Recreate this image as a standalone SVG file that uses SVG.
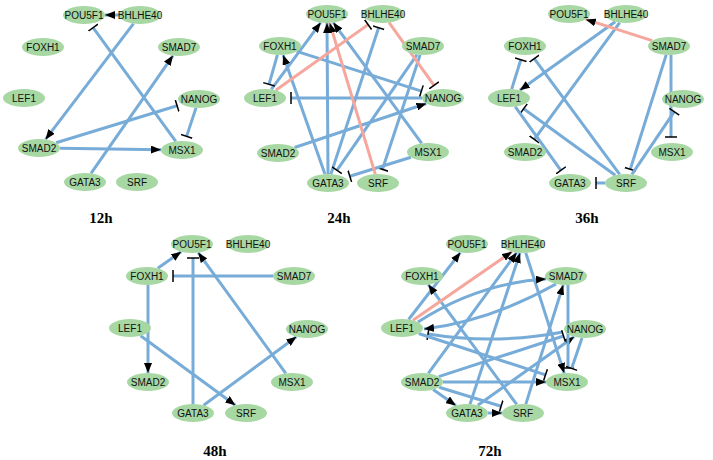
<svg xmlns="http://www.w3.org/2000/svg" width="713" height="460" viewBox="0 0 713 460">
<style>
.e{stroke:#78acd8;stroke-width:3;fill:none}
.p{stroke:#f5a69d;stroke-width:3;fill:none}
.n ellipse{fill:#a7d7a3}
.n text{font-family:"Liberation Sans",Arial,sans-serif;font-size:10px;text-anchor:middle;fill:#111}
.lbl{font-family:"Liberation Serif","Times New Roman",serif;font-size:15px;font-weight:bold;text-anchor:middle;fill:#000}
</style>
<defs>
<marker id="arr" viewBox="0 0 10 8" refX="10" refY="4" markerWidth="10" markerHeight="8" markerUnits="userSpaceOnUse" orient="auto"><path d="M0,0 L10,4 L0,8 z" fill="#000"/></marker>
<marker id="tee" viewBox="0 0 3 12" refX="1.5" refY="6" markerWidth="3" markerHeight="12" markerUnits="userSpaceOnUse" orient="auto"><path d="M1.5,0 V12" stroke="#000" stroke-width="1.5"/></marker>
</defs>
<rect width="713" height="460" fill="#fff"/>

<g id="edges">
<!-- 12h -->
<line class="e" x1="119" y1="15" x2="105" y2="15" marker-end="url(#arr)"/>
<line class="e" x1="133.5" y1="23.6" x2="45.5" y2="139.4" marker-end="url(#arr)"/>
<line class="e" x1="175.8" y1="141.4" x2="93.1" y2="27.6" marker-end="url(#tee)"/>
<line class="e" x1="91" y1="173.4" x2="173" y2="55.6" marker-end="url(#arr)"/>
<line class="e" x1="56.1" y1="142.8" x2="177.1" y2="105.7" marker-end="url(#tee)"/>
<line class="e" x1="196" y1="107.9" x2="186.6" y2="136.4" marker-end="url(#tee)"/>
<line class="e" x1="60" y1="148.3" x2="161" y2="149.7" marker-end="url(#arr)"/>
<!-- 24h -->
<line class="e" x1="271.3" y1="89.4" x2="320.7" y2="22.6" marker-end="url(#arr)"/>
<line class="e" x1="328" y1="174" x2="327" y2="23" marker-end="url(#arr)"/>
<line class="e" x1="421.7" y1="143.4" x2="333.3" y2="22.6" marker-end="url(#arr)"/>
<line class="e" x1="277.4" y1="54.9" x2="269" y2="84.3" marker-end="url(#tee)"/>
<line class="e" x1="330.9" y1="174.1" x2="378.6" y2="27.7" marker-end="url(#tee)"/>
<line class="e" x1="296.8" y1="51.4" x2="421.4" y2="91.1" marker-end="url(#tee)"/>
<line class="e" x1="422" y1="98" x2="291" y2="98" marker-end="url(#tee)"/>
<line class="e" x1="294.6" y1="147.5" x2="426.4" y2="103.5" marker-end="url(#arr)"/>
<line class="e" x1="324.9" y1="174.1" x2="283.1" y2="54.9" marker-end="url(#arr)"/>
<line class="e" x1="417" y1="54.6" x2="336.9" y2="170.3" marker-end="url(#tee)"/>
<line class="e" x1="420.1" y1="54.9" x2="382.5" y2="169.3" marker-end="url(#tee)"/>
<line class="e" x1="411" y1="157.3" x2="349.8" y2="176.2" marker-end="url(#tee)"/>
<line class="p" x1="375.3" y1="174.1" x2="329.7" y2="22.9" marker-end="url(#arr)"/>
<line class="p" x1="275.8" y1="90.3" x2="368.1" y2="24.6" marker-end="url(#tee)"/>
<line class="p" x1="389.1" y1="22.6" x2="434" y2="85.3" marker-end="url(#tee)"/>
<!-- 36h -->
<line class="e" x1="615.2" y1="21.7" x2="519.8" y2="90.3" marker-end="url(#arr)"/>
<line class="e" x1="619.7" y1="22.6" x2="534.3" y2="139.4" marker-end="url(#tee)"/>
<line class="e" x1="511.7" y1="89.1" x2="520.8" y2="59.7" marker-end="url(#tee)"/>
<line class="e" x1="619.7" y1="174.4" x2="534.3" y2="58.6" marker-end="url(#tee)"/>
<line class="e" x1="615.3" y1="175.2" x2="523.7" y2="108.7" marker-end="url(#tee)"/>
<line class="e" x1="515.2" y1="106.6" x2="560.9" y2="170.3" marker-end="url(#tee)"/>
<line class="e" x1="605" y1="183" x2="596" y2="183" marker-end="url(#tee)"/>
<line class="e" x1="666.2" y1="54.9" x2="630.3" y2="169.3" marker-end="url(#tee)"/>
<line class="e" x1="671" y1="55" x2="671" y2="137" marker-end="url(#tee)"/>
<line class="e" x1="631.9" y1="174.4" x2="674.3" y2="111.7" marker-end="url(#tee)"/>
<line class="p" x1="652.2" y1="40.6" x2="585.8" y2="19.4" marker-end="url(#arr)"/>
<!-- 48h -->
<line class="e" x1="157.8" y1="268.3" x2="181.2" y2="251.7" marker-end="url(#arr)"/>
<line class="e" x1="273" y1="276" x2="173" y2="276" marker-end="url(#tee)"/>
<line class="e" x1="193" y1="404" x2="193" y2="258" marker-end="url(#tee)"/>
<line class="e" x1="285.8" y1="373.4" x2="198.2" y2="252.6" marker-end="url(#arr)"/>
<line class="e" x1="148" y1="285" x2="148" y2="373" marker-end="url(#arr)"/>
<line class="e" x1="140.6" y1="335.8" x2="235.4" y2="405.2" marker-end="url(#arr)"/>
<line class="e" x1="203.6" y1="405.2" x2="296.4" y2="336.8" marker-end="url(#arr)"/>
<!-- 72h -->
<line class="e" x1="408.6" y1="319.5" x2="460.4" y2="252.5" marker-end="url(#arr)"/>
<line class="e" x1="516.7" y1="404.4" x2="428.3" y2="284.6" marker-end="url(#arr)"/>
<line class="e" x1="428.3" y1="373.4" x2="516.7" y2="252.6" marker-end="url(#arr)"/>
<line class="e" x1="470" y1="404.1" x2="520" y2="252.9" marker-end="url(#arr)"/>
<line class="e" x1="525.8" y1="252.9" x2="564.2" y2="373.1" marker-end="url(#arr)"/>
<path class="e" d="M418,322 Q478,283 546,279" marker-end="url(#arr)"/>
<path class="e" d="M556,284 Q490,321 424,329" marker-end="url(#arr)"/>
<path class="e" d="M563,332 Q495,345 428,334" marker-end="url(#tee)"/>
<line class="e" x1="443" y1="382" x2="546" y2="382" marker-end="url(#arr)"/>
<line class="e" x1="418.7" y1="333.5" x2="545.5" y2="374.9" marker-end="url(#tee)"/>
<line class="e" x1="439.1" y1="387.2" x2="501.1" y2="406.3" marker-end="url(#tee)"/>
<line class="e" x1="433.1" y1="389.6" x2="455.9" y2="405.4" marker-end="url(#arr)"/>
<line class="e" x1="488" y1="413" x2="502" y2="413" marker-end="url(#arr)"/>
<line class="e" x1="438.7" y1="376.6" x2="563.5" y2="336" marker-end="url(#tee)"/>
<line class="e" x1="477.8" y1="405.3" x2="574.2" y2="336.7" marker-end="url(#arr)"/>
<line class="e" x1="525.8" y1="404.1" x2="563.2" y2="284.9" marker-end="url(#arr)"/>
<line class="e" x1="568" y1="285" x2="568" y2="368" marker-end="url(#tee)"/>
<line class="e" x1="582" y1="337.9" x2="571.6" y2="368.4" marker-end="url(#tee)"/>
<line class="p" x1="413" y1="320.3" x2="512" y2="251.7" marker-end="url(#arr)"/>
</g>

<g id="nodes-12h">
<g id="n12-POU5F1" class="n"><ellipse cx="84" cy="15" rx="21" ry="9"/><text x="84" y="18.5">POU5F1</text></g>
<g id="n12-BHLHE40" class="n"><ellipse cx="140" cy="15" rx="21" ry="9"/><text x="140" y="18.5">BHLHE40</text></g>
<g id="n12-FOXH1" class="n"><ellipse cx="43" cy="47" rx="21" ry="9"/><text x="43" y="50.5">FOXH1</text></g>
<g id="n12-SMAD7" class="n"><ellipse cx="179" cy="47" rx="21" ry="9"/><text x="179" y="50.5">SMAD7</text></g>
<g id="n12-LEF1" class="n"><ellipse cx="24" cy="98" rx="21" ry="9"/><text x="24" y="101.5">LEF1</text></g>
<g id="n12-NANOG" class="n"><ellipse cx="199" cy="99" rx="21" ry="9"/><text x="199" y="102.5">NANOG</text></g>
<g id="n12-SMAD2" class="n"><ellipse cx="39" cy="148" rx="21" ry="9"/><text x="39" y="151.5">SMAD2</text></g>
<g id="n12-MSX1" class="n"><ellipse cx="182" cy="150" rx="21" ry="9"/><text x="182" y="153.5">MSX1</text></g>
<g id="n12-GATA3" class="n"><ellipse cx="85" cy="182" rx="21" ry="9"/><text x="85" y="185.5">GATA3</text></g>
<g id="n12-SRF" class="n"><ellipse cx="137" cy="182" rx="21" ry="9"/><text x="137" y="185.5">SRF</text></g>
</g>
<g id="nodes-24h">
<g id="n24-POU5F1" class="n"><ellipse cx="327" cy="14" rx="21" ry="9"/><text x="327" y="17.5">POU5F1</text></g>
<g id="n24-BHLHE40" class="n"><ellipse cx="383" cy="14" rx="21" ry="9"/><text x="383" y="17.5">BHLHE40</text></g>
<g id="n24-FOXH1" class="n"><ellipse cx="280" cy="46" rx="21" ry="9"/><text x="280" y="49.5">FOXH1</text></g>
<g id="n24-SMAD7" class="n"><ellipse cx="423" cy="46" rx="21" ry="9"/><text x="423" y="49.5">SMAD7</text></g>
<g id="n24-LEF1" class="n"><ellipse cx="265" cy="98" rx="21" ry="9"/><text x="265" y="101.5">LEF1</text></g>
<g id="n24-NANOG" class="n"><ellipse cx="443" cy="98" rx="21" ry="9"/><text x="443" y="101.5">NANOG</text></g>
<g id="n24-SMAD2" class="n"><ellipse cx="278" cy="153" rx="21" ry="9"/><text x="278" y="156.5">SMAD2</text></g>
<g id="n24-MSX1" class="n"><ellipse cx="428" cy="152" rx="21" ry="9"/><text x="428" y="155.5">MSX1</text></g>
<g id="n24-GATA3" class="n"><ellipse cx="328" cy="183" rx="21" ry="9"/><text x="328" y="186.5">GATA3</text></g>
<g id="n24-SRF" class="n"><ellipse cx="378" cy="183" rx="21" ry="9"/><text x="378" y="186.5">SRF</text></g>
</g>
<g id="nodes-36h">
<g id="n36-POU5F1" class="n"><ellipse cx="569" cy="14" rx="21" ry="9"/><text x="569" y="17.5">POU5F1</text></g>
<g id="n36-BHLHE40" class="n"><ellipse cx="626" cy="14" rx="21" ry="9"/><text x="626" y="17.5">BHLHE40</text></g>
<g id="n36-FOXH1" class="n"><ellipse cx="525" cy="46" rx="21" ry="9"/><text x="525" y="49.5">FOXH1</text></g>
<g id="n36-SMAD7" class="n"><ellipse cx="669" cy="46" rx="21" ry="9"/><text x="669" y="49.5">SMAD7</text></g>
<g id="n36-LEF1" class="n"><ellipse cx="509" cy="98" rx="21" ry="9"/><text x="509" y="101.5">LEF1</text></g>
<g id="n36-NANOG" class="n"><ellipse cx="683" cy="99" rx="21" ry="9"/><text x="683" y="102.5">NANOG</text></g>
<g id="n36-SMAD2" class="n"><ellipse cx="525" cy="152" rx="21" ry="9"/><text x="525" y="155.5">SMAD2</text></g>
<g id="n36-MSX1" class="n"><ellipse cx="672" cy="152" rx="21" ry="9"/><text x="672" y="155.5">MSX1</text></g>
<g id="n36-GATA3" class="n"><ellipse cx="570" cy="183" rx="21" ry="9"/><text x="570" y="186.5">GATA3</text></g>
<g id="n36-SRF" class="n"><ellipse cx="626" cy="183" rx="21" ry="9"/><text x="626" y="186.5">SRF</text></g>
</g>
<g id="nodes-48h">
<g id="n48-POU5F1" class="n"><ellipse cx="192" cy="244" rx="21" ry="9"/><text x="192" y="247.5">POU5F1</text></g>
<g id="n48-BHLHE40" class="n"><ellipse cx="248" cy="244" rx="21" ry="9"/><text x="248" y="247.5">BHLHE40</text></g>
<g id="n48-FOXH1" class="n"><ellipse cx="147" cy="276" rx="21" ry="9"/><text x="147" y="279.5">FOXH1</text></g>
<g id="n48-SMAD7" class="n"><ellipse cx="294" cy="276" rx="21" ry="9"/><text x="294" y="279.5">SMAD7</text></g>
<g id="n48-LEF1" class="n"><ellipse cx="130" cy="328" rx="21" ry="9"/><text x="130" y="331.5">LEF1</text></g>
<g id="n48-NANOG" class="n"><ellipse cx="307" cy="329" rx="21" ry="9"/><text x="307" y="332.5">NANOG</text></g>
<g id="n48-SMAD2" class="n"><ellipse cx="148" cy="382" rx="21" ry="9"/><text x="148" y="385.5">SMAD2</text></g>
<g id="n48-MSX1" class="n"><ellipse cx="292" cy="382" rx="21" ry="9"/><text x="292" y="385.5">MSX1</text></g>
<g id="n48-GATA3" class="n"><ellipse cx="193" cy="413" rx="21" ry="9"/><text x="193" y="416.5">GATA3</text></g>
<g id="n48-SRF" class="n"><ellipse cx="246" cy="413" rx="21" ry="9"/><text x="246" y="416.5">SRF</text></g>
</g>
<g id="nodes-72h">
<g id="n72-POU5F1" class="n"><ellipse cx="467" cy="244" rx="21" ry="9"/><text x="467" y="247.5">POU5F1</text></g>
<g id="n72-BHLHE40" class="n"><ellipse cx="523" cy="244" rx="21" ry="9"/><text x="523" y="247.5">BHLHE40</text></g>
<g id="n72-FOXH1" class="n"><ellipse cx="422" cy="276" rx="21" ry="9"/><text x="422" y="279.5">FOXH1</text></g>
<g id="n72-SMAD7" class="n"><ellipse cx="566" cy="276" rx="21" ry="9"/><text x="566" y="279.5">SMAD7</text></g>
<g id="n72-LEF1" class="n"><ellipse cx="402" cy="328" rx="21" ry="9"/><text x="402" y="331.5">LEF1</text></g>
<g id="n72-NANOG" class="n"><ellipse cx="585" cy="329" rx="21" ry="9"/><text x="585" y="332.5">NANOG</text></g>
<g id="n72-SMAD2" class="n"><ellipse cx="422" cy="382" rx="21" ry="9"/><text x="422" y="385.5">SMAD2</text></g>
<g id="n72-MSX1" class="n"><ellipse cx="567" cy="382" rx="21" ry="9"/><text x="567" y="385.5">MSX1</text></g>
<g id="n72-GATA3" class="n"><ellipse cx="467" cy="413" rx="21" ry="9"/><text x="467" y="416.5">GATA3</text></g>
<g id="n72-SRF" class="n"><ellipse cx="523" cy="413" rx="21" ry="9"/><text x="523" y="416.5">SRF</text></g>
</g>

<g id="labels">
<text class="lbl" x="101" y="223">12h</text>
<text class="lbl" x="339" y="223">24h</text>
<text class="lbl" x="587" y="223">36h</text>
<text class="lbl" x="215" y="456">48h</text>
<text class="lbl" x="490" y="456">72h</text>
</g>
</svg>
